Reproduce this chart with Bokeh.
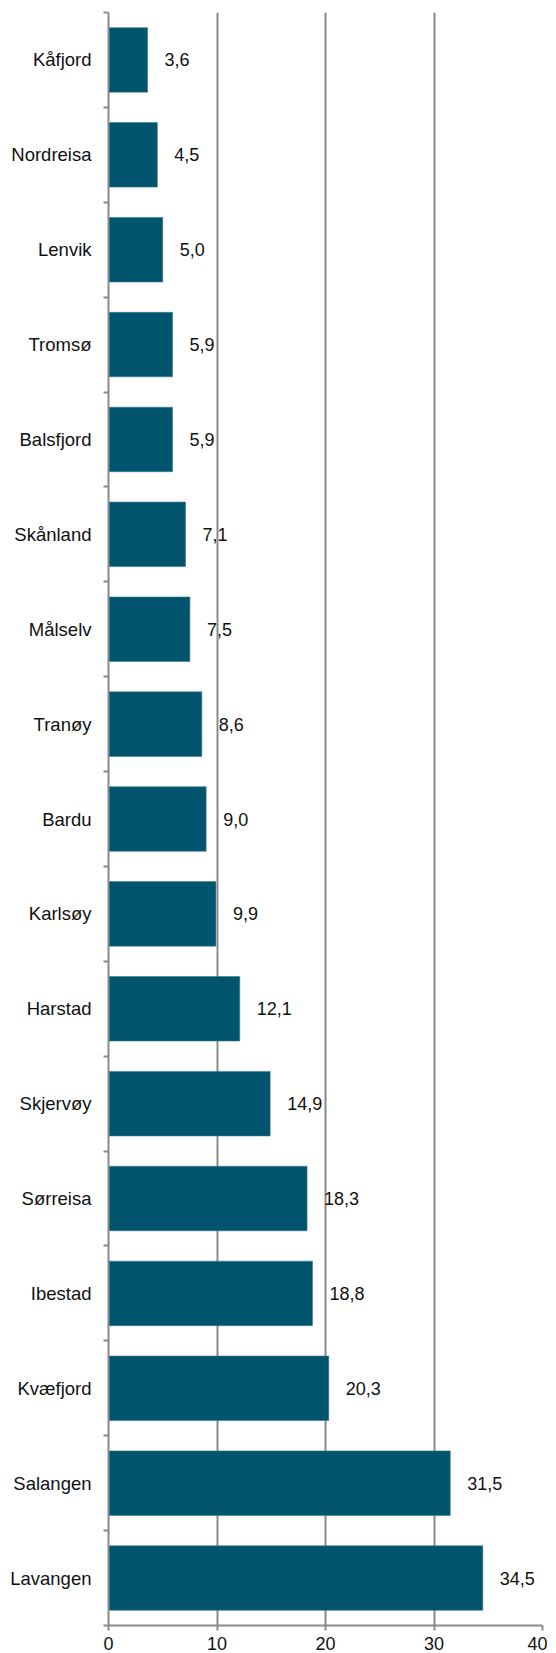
from bokeh.plotting import figure
from bokeh.models import Range1d, FixedTicker, ColumnDataSource
from bokeh.core.properties import value
from bokeh.embed import file_html
from bokeh.resources import INLINE

kommuner = ["Kåfjord", "Nordreisa", "Lenvik", "Tromsø", "Balsfjord", "Skånland",
            "Målselv", "Tranøy", "Bardu", "Karlsøy", "Harstad", "Skjervøy",
            "Sørreisa", "Ibestad", "Kvæfjord", "Salangen", "Lavangen"]
verdier = [3.6, 4.5, 5.0, 5.9, 5.9, 7.1, 7.5, 8.6, 9.0, 9.9, 12.1, 14.9,
           18.3, 18.8, 20.3, 31.5, 34.5]
x_ticks = [0, 10, 20, 30, 40]

n = len(kommuner)
pos = list(range(n))
labels = [f"{v:.1f}".replace(".", ",") for v in verdier]
src = ColumnDataSource(dict(y=pos, v=verdier, lab=labels))

FONT = "Liberation Sans"
GRID = "#8a8a8a"
BAR = "#01546D"

p = figure(frame_width=434, frame_height=1613, output_backend="svg",
           toolbar_location=None,
           x_range=Range1d(0, 40), y_range=Range1d(n - 0.5, -0.5),
           min_border_left=108, min_border_right=5, min_border_top=12,
           min_border_bottom=20)
p.outline_line_color = None
p.background_fill_color = "white"
p.border_fill_color = "white"

p.hbar(y="y", right="v", left=0, height=0.68, source=src,
       fill_color=BAR, line_color="#3d7b90", line_width=0.6)
p.text(x="v", y="y", text="lab", source=src, x_offset=17,
       text_font=value(FONT), text_font_size="18px", text_color="#111111",
       text_baseline="middle", text_align="left")

# x axis
xa = p.xaxis[0]
xa.ticker = FixedTicker(ticks=x_ticks)
xa.axis_line_color = GRID
xa.axis_line_width = 2
xa.major_tick_line_color = GRID
xa.major_tick_line_width = 2
xa.major_tick_out = 5
xa.major_tick_in = 0
xa.minor_tick_line_color = None
xa.major_label_standoff = 6
xa.major_label_text_font = FONT
xa.major_label_text_font_size = "18px"
xa.major_label_text_color = "#111111"

# y axis
ya = p.yaxis[0]
ya.ticker = FixedTicker(ticks=pos, minor_ticks=[i - 0.5 for i in range(n + 1)])
ya.major_label_overrides = {i: k for i, k in enumerate(kommuner)}
ya.axis_line_color = GRID
ya.axis_line_width = 2
ya.major_tick_line_color = None
ya.major_tick_out = 0
ya.major_tick_in = 0
ya.minor_tick_line_color = GRID
ya.minor_tick_line_width = 2
ya.minor_tick_out = 5
ya.minor_tick_in = 0
ya.major_label_standoff = 12
ya.major_label_text_font = FONT
ya.major_label_text_font_size = "18.5px"
ya.major_label_text_color = "#111111"

p.xgrid.ticker = FixedTicker(ticks=x_ticks[1:])
p.xgrid.grid_line_color = GRID
p.xgrid.grid_line_width = 2
p.ygrid.grid_line_color = None

open("out.html", "w").write(file_html(p, INLINE))
